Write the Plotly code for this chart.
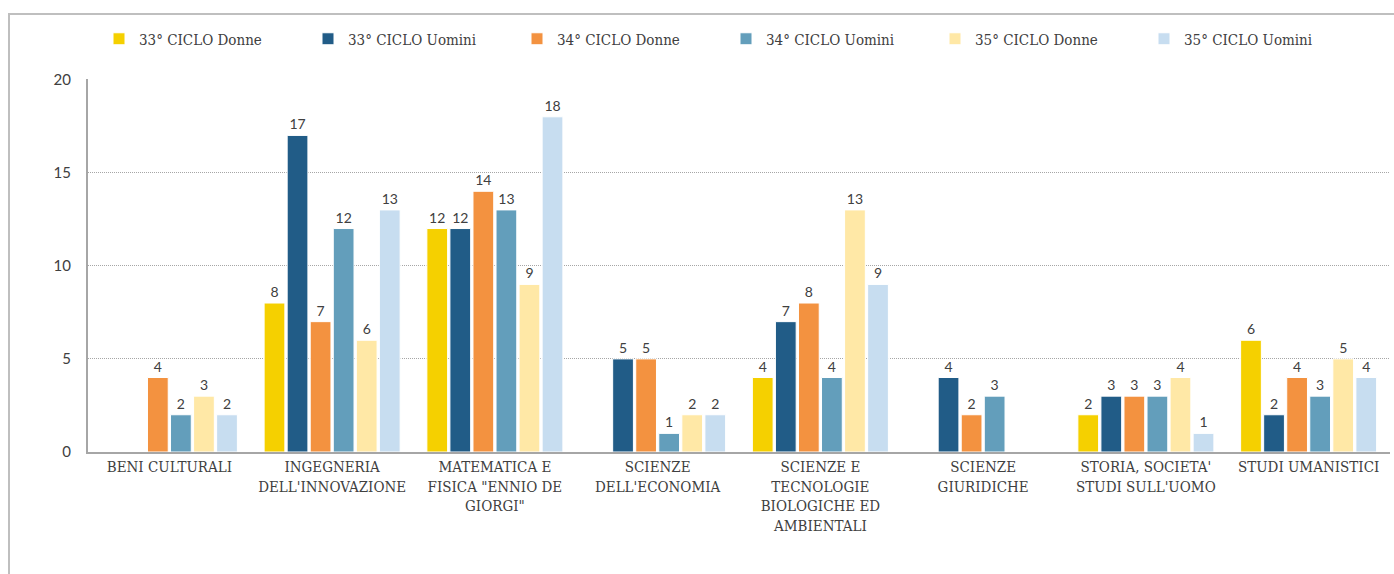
import plotly.graph_objects as go

# Dottorandi per corso e ciclo
categories = [
    "BENI CULTURALI",
    "INGEGNERIA<br>DELL'INNOVAZIONE",
    "MATEMATICA E<br>FISICA \"ENNIO DE<br>GIORGI\"",
    "SCIENZE<br>DELL'ECONOMIA",
    "SCIENZE E<br>TECNOLOGIE<br>BIOLOGICHE ED<br>AMBIENTALI",
    "SCIENZE<br>GIURIDICHE",
    "STORIA, SOCIETA'<br>STUDI SULL'UOMO",
    "STUDI UMANISTICI",
]

series_names = [
    "33° CICLO Donne",
    "33° CICLO Uomini",
    "34° CICLO Donne",
    "34° CICLO Uomini",
    "35° CICLO Donne",
    "35° CICLO Uomini",
]

c33_donne = [None, 8, 12, None, 4, None, 2, 6]
c33_uomini = [None, 17, 12, 5, 7, 4, 3, 2]
c34_donne = [4, 7, 14, 5, 8, 2, 3, 4]
c34_uomini = [2, 12, 13, 1, 4, 3, 3, 3]
c35_donne = [3, 6, 9, 2, 13, None, 4, 5]
c35_uomini = [2, 13, 18, 2, 9, None, 1, 4]

series_values = [c33_donne, c33_uomini, c34_donne, c34_uomini, c35_donne, c35_uomini]
colors = ["#F5D000", "#215C87", "#F39240", "#639EBB", "#FFE8A6", "#C7DDF0"]

SLAB = "DejaVu Serif Condensed, DejaVu Serif, serif"
SANS = "Lato, Open Sans, sans-serif"
TEXT = "#404040"

fig = go.Figure()
for name, vals, col in zip(series_names, series_values, colors):
    fig.add_trace(go.Bar(
        name=name,
        x=categories,
        y=vals,
        marker=dict(color=col, line=dict(color="white", width=1)),
        text=[("" if v is None else str(v)) for v in vals],
        textposition="outside",
        textfont=dict(family=SANS, size=14, color=TEXT),
        cliponaxis=False,
    ))

fig.update_layout(
    width=1394,
    height=574,
    barmode="group",
    bargap=0.15,
    bargroupgap=0.1,
    plot_bgcolor="white",
    paper_bgcolor="white",
    margin=dict(l=88, r=4, t=79, b=122, autoexpand=False),
    showlegend=True,
    legend=dict(
        orientation="h",
        x=(99 - 88) / 1302, xanchor="left",
        y=(452 - 39) / 373, yanchor="middle",
        font=dict(family=SLAB, size=15, color=TEXT),
        bgcolor="rgba(0,0,0,0)",
        itemwidth=30,
        entrywidth=164,
        entrywidthmode="pixels",
        itemclick=False,
        traceorder="normal",
    ),
)

fig.update_yaxes(
    range=[0, 20.03],
    tickvals=[0, 5, 10, 15, 20],
    showgrid=True,
    gridcolor="#A6A6A6",
    griddash="1px,1px",
    gridwidth=1,
    zeroline=False,
    showline=True,
    linecolor="#A6A6A6",
    linewidth=2,
    ticks="",
    ticklabelstandoff=12,
    tickfont=dict(family=SANS, size=15, color=TEXT),
)

fig.update_xaxes(
    showline=True,
    linecolor="#A6A6A6",
    linewidth=2,
    ticks="",
    tickangle=0,
    tickfont=dict(family=SLAB, size=15, color=TEXT),
)

# outer frame of the chart area
fig.add_shape(
    type="rect",
    xref="paper", yref="paper",
    x0=(9 - 88) / 1302, x1=(1420 - 88) / 1302,
    y0=(452 - 600) / 373, y1=(452 - 14) / 373,
    line=dict(color="#BFBFBF", width=2),
    fillcolor="rgba(0,0,0,0)",
    layer="below",
)

fig.write_html("out.html")
